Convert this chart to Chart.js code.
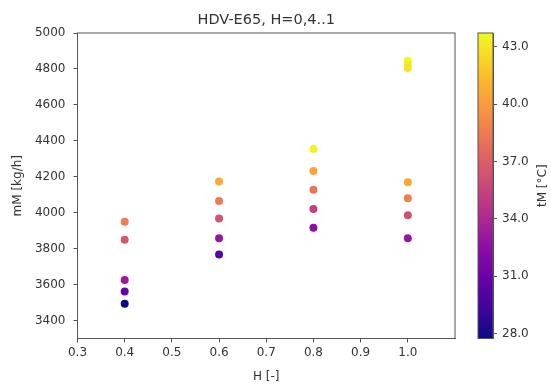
<!DOCTYPE html>
<html>
<head>
<meta charset="utf-8">
<script src="https://cdn.jsdelivr.net/npm/chart.js@4.4.0/dist/chart.umd.min.js"></script>
<style>
    html, body { margin: 0; padding: 0; background: #ffffff; }
    #wrap { position: relative; width: 551px; height: 385px; }
    #wrap canvas { position: absolute; left: 0; top: 0; }
</style>
</head>
<body>
<div id="wrap">
    <canvas id="mainChart" width="551" height="385"></canvas>
    <canvas id="barChart" width="551" height="385"></canvas>
</div>
<script>
// data
const hValues = [0.4, 0.4, 0.4, 0.4, 0.4, 0.6, 0.6, 0.6, 0.6, 0.6, 0.8, 0.8, 0.8, 0.8, 0.8, 1.0, 1.0, 1.0, 1.0, 1.0, 1.0, 1.0];
const massFlow = [3950, 3850, 3625, 3562, 3493, 4174, 4065, 3968, 3858, 3768, 4354, 4232, 4128, 4020, 3916, 4845, 4825, 4805, 4170, 4081, 3986, 3858];
const temps = [38.6, 36.6, 33.2, 30.8, 27.75, 40.6, 38.5, 36.4, 33.0, 30.2, 43.5, 40.4, 38.2, 35.3, 32.4, 43.72, 43.2, 42.9, 40.6, 38.7, 36.2, 33.0];

const xTicks = [0.3, 0.4, 0.5, 0.6, 0.7, 0.8, 0.9, 1.0];
const yTicks = [3400, 3600, 3800, 4000, 4200, 4400, 4600, 4800, 5000];
const cTicks = [28, 31, 34, 37, 40, 43];

const chartTitle = 'HDV-E65, H=0,4..1';
const xTitle = 'H [-]';
const yTitle = 'mM [kg/h]';
const cTitle = 'tM [°C]';

const cMin = Math.min(...temps);
const cMax = Math.max(...temps);

// plasma colormap stops
const plasma = ['#0d0887', '#41049d', '#6a00a8', '#8f0da4', '#b12a90', '#cc4778', '#e16462', '#f2844b', '#fca636', '#fcce25', '#f0f921'];

function hexRgb(h) {
    return [parseInt(h.slice(1, 3), 16), parseInt(h.slice(3, 5), 16), parseInt(h.slice(5, 7), 16)];
}

function plasmaColor(t) {
    t = Math.max(0, Math.min(1, t));
    const pos = t * (plasma.length - 1);
    const i = Math.min(Math.floor(pos), plasma.length - 2);
    const f = pos - i;
    const a = hexRgb(plasma[i]), b = hexRgb(plasma[i + 1]);
    const c = a.map((v, k) => Math.round(v + (b[k] - v) * f));
    return `rgb(${c[0]},${c[1]},${c[2]})`;
}

Chart.defaults.font.family = '"DejaVu Sans", sans-serif';
Chart.defaults.font.size = 12;
Chart.defaults.color = '#333333';

const axisColor = '#555555';

const frame = {
    id: 'frame',
    afterDraw(chart) {
        const a = chart.chartArea;
        const ctx = chart.ctx;
        ctx.save();
        ctx.strokeStyle = axisColor;
        ctx.lineWidth = 1;
        ctx.strokeRect(a.left, a.top, a.right - a.left, a.bottom - a.top);
        ctx.restore();
    }
};

// title centred over the plot area, like matplotlib
const plotTitle = {
    id: 'plotTitle',
    afterDraw(chart) {
        const a = chart.chartArea;
        const ctx = chart.ctx;
        ctx.save();
        ctx.fillStyle = '#333333';
        ctx.font = '14.5px "DejaVu Sans", sans-serif';
        ctx.textAlign = 'center';
        ctx.textBaseline = 'middle';
        ctx.fillText(chartTitle, (a.left + a.right) / 2, 20);
        ctx.restore();
    }
};

new Chart(document.getElementById('mainChart'), {
    type: 'scatter',
    data: {
        datasets: [{
            data: hValues.map((h, i) => ({ x: h, y: massFlow[i] })),
            pointRadius: 4,
            pointHoverRadius: 4,
            borderWidth: 0,
            pointBackgroundColor: ctx => plasmaColor((temps[ctx.dataIndex] - cMin) / (cMax - cMin))
        }]
    },
    plugins: [frame, plotTitle],
    options: {
        responsive: false,
        animation: false,
        events: [],
        layout: { padding: { left: 0, right: 96, top: 33, bottom: 0 } },
        plugins: {
            legend: { display: false },
            tooltip: { enabled: false }
        },
        scales: {
            x: {
                type: 'linear',
                min: 0.3, max: 1.1,
                afterBuildTicks: s => { s.ticks = xTicks.map(v => ({ value: v })); },
                afterFit: s => { s.height = 46.5; },
                grid: { drawOnChartArea: false, tickLength: 4, tickColor: axisColor },
                border: { color: axisColor },
                ticks: { padding: 3, maxRotation: 0, callback: v => v.toFixed(1) },
                title: { display: true, text: xTitle, padding: { top: 0, bottom: 1 } }
            },
            y: {
                min: 3300, max: 5000,
                afterBuildTicks: s => { s.ticks = yTicks.map(v => ({ value: v })); },
                afterFit: s => { s.width = 77.5; },
                grid: { drawOnChartArea: false, tickLength: 4, tickColor: axisColor },
                border: { color: axisColor },
                ticks: { padding: 8, callback: v => String(v) },
                title: { display: true, text: yTitle, padding: { top: 11, bottom: 0 } }
            }
        }
    }
});

const barLabel = {
    id: 'barLabel',
    afterDraw(chart) {
        const a = chart.chartArea;
        const ctx = chart.ctx;
        ctx.save();
        ctx.fillStyle = '#333333';
        ctx.font = '12px "DejaVu Sans", sans-serif';
        ctx.textAlign = 'center';
        ctx.textBaseline = 'middle';
        ctx.translate(543, (a.top + a.bottom) / 2);
        ctx.rotate(-Math.PI / 2);
        ctx.fillText(cTitle, 0, 0);
        ctx.restore();
    }
};

new Chart(document.getElementById('barChart'), {
    type: 'bar',
    data: {
        labels: [cTitle],
        datasets: [{
            data: [[cMin, cMax]],
            borderWidth: 0,
            barPercentage: 1,
            categoryPercentage: 1,
            backgroundColor: ctx => {
                const a = ctx.chart.chartArea;
                if (!a) return plasma[5];
                const g = ctx.chart.ctx.createLinearGradient(0, a.bottom, 0, a.top);
                plasma.forEach((c, i) => g.addColorStop(i / (plasma.length - 1), c));
                return g;
            }
        }]
    },
    plugins: [frame, barLabel],
    options: {
        responsive: false,
        animation: false,
        events: [],
        layout: { padding: { left: 478, right: 0, top: 33, bottom: 46.5 } },
        plugins: { legend: { display: false }, tooltip: { enabled: false } },
        scales: {
            x: { display: false },
            y: {
                position: 'right',
                min: cMin, max: cMax,
                afterBuildTicks: s => { s.ticks = cTicks.map(v => ({ value: v })); },
                afterFit: s => { s.width = 58; },
                grid: { drawOnChartArea: false, tickLength: 4, tickColor: axisColor },
                border: { color: axisColor },
                ticks: { padding: 5, callback: v => v.toFixed(1) }
            }
        }
    }
});
</script>
</body>
</html>
